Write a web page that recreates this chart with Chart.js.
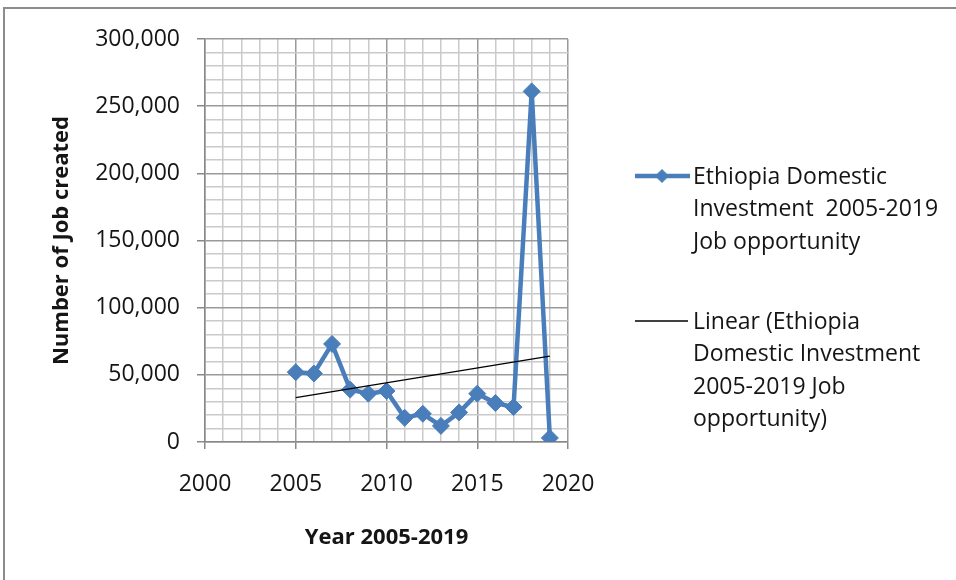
<!DOCTYPE html>
<html>
<head>
<meta charset="utf-8">
<script src="https://cdn.jsdelivr.net/npm/chart.js@4.4.1/dist/chart.umd.min.js"></script>
<style>
  html, body { margin: 0; padding: 0; background: #fff; }
  canvas { display: block; }
</style>
</head>
<body>
<canvas id="graficoEmpleo" width="956" height="580"></canvas>
<script>
// Empleos creados por la inversión doméstica, 2005-2019
var years = [2005, 2006, 2007, 2008, 2009, 2010, 2011, 2012, 2013, 2014, 2015, 2016, 2017, 2018, 2019];
var jobs = [52000, 51000, 73000, 39000, 36000, 38000, 18000, 21000, 12000, 22000, 36000, 29000, 26000, 261000, 3000];

// extremos de la tendencia lineal
var trendYears = [2005, 2019];
var trendJobs = [33000, 64000];

var xTickLabels = [2000, 2005, 2010, 2015, 2020];
var yTickLabels = [0, 50000, 100000, 150000, 200000, 250000, 300000];

var seriesLegend = ['Ethiopia Domestic', 'Investment  2005-2019', 'Job opportunity'];
var trendLegend = ['Linear (Ethiopia', 'Domestic Investment', '2005-2019 Job', 'opportunity)'];

var azul = '#4a7ebb';
var texto = '#151515';
var gridMenor = '#cacaca';
var gridMayor = '#9a9a9a';
var fuente = '"Open Sans", sans-serif';

var marco = {
    id: 'marco',
    beforeDraw: function (chart) {
        var ctx = chart.ctx;
        ctx.save();
        ctx.fillStyle = '#fff';
        ctx.fillRect(0, 0, chart.width, chart.height);
        ctx.strokeStyle = '#8c8c8c';
        ctx.lineWidth = 2;
        ctx.strokeRect(4, 8, 1000, 1000);
        ctx.restore();
    }
};

var leyenda = {
    id: 'leyenda',
    afterDraw: function (chart) {
        var ctx = chart.ctx;
        ctx.save();
        // serie principal
        ctx.strokeStyle = azul;
        ctx.lineWidth = 4.5;
        ctx.beginPath();
        ctx.moveTo(635, 176);
        ctx.lineTo(690, 176);
        ctx.stroke();
        ctx.fillStyle = azul;
        ctx.lineWidth = 1;
        Chart.helpers.drawPoint(ctx, { pointStyle: 'rectRot', radius: 6.5, borderWidth: 1 }, 662, 176);
        // tendencia
        ctx.strokeStyle = '#000';
        ctx.lineWidth = 1.3;
        ctx.beginPath();
        ctx.moveTo(635, 321);
        ctx.lineTo(688, 321);
        ctx.stroke();

        ctx.font = '23px ' + fuente;
        ctx.fillStyle = texto;
        ctx.textBaseline = 'middle';
        seriesLegend.forEach(function (t, i) {
            ctx.fillText(t, 693, 177 + i * 32.7);
        });
        trendLegend.forEach(function (t, i) {
            ctx.fillText(t, 693, 322 + i * 32.5);
        });
        ctx.restore();
    }
};

var ctx = document.getElementById('graficoEmpleo').getContext('2d');
var myChart = new Chart(ctx, {
    type: 'line',
    data: {
        datasets: [{
            label: 'Ethiopia Domestic Investment  2005-2019 Job opportunity',
            data: years.map(function (y, i) { return { x: y, y: jobs[i] }; }),
            borderColor: azul,
            backgroundColor: azul,
            borderWidth: 4.5,
            pointStyle: 'rectRot',
            pointRadius: 8.5,
            pointBorderWidth: 1,
            pointBackgroundColor: azul,
            pointBorderColor: azul,
            tension: 0,
            order: 1
        }, {
            label: 'Linear (Ethiopia Domestic Investment 2005-2019 Job opportunity)',
            data: trendYears.map(function (y, i) { return { x: y, y: trendJobs[i] }; }),
            borderColor: '#000',
            borderWidth: 1.3,
            pointRadius: 0,
            order: 0
        }]
    },
    options: {
        responsive: false,
        animation: false,
        layout: { padding: { left: 49, top: 39, right: 388, bottom: 29 } },
        plugins: {
            legend: { display: false },
            tooltip: { enabled: false }
        },
        scales: {
            x: {
                type: 'linear',
                min: 2000,
                max: 2020,
                afterFit: function (scale) { scale.height = 580 - 442 - 29; },
                ticks: {
                    stepSize: 1,
                    autoSkip: false,
                    maxRotation: 0,
                    padding: 22,
                    color: texto,
                    font: { family: fuente, size: 23 },
                    callback: function (v) { return xTickLabels.indexOf(v) >= 0 ? String(v) : ''; }
                },
                grid: {
                    color: function (c) { return c.tick && c.tick.value % 5 === 0 ? gridMayor : gridMenor; },
                    tickColor: function (c) { return c.tick && c.tick.value % 5 === 0 ? '#888' : 'rgba(0,0,0,0)'; },
                    tickLength: 7,
                    lineWidth: 1.5
                },
                border: { color: '#888', width: 1.5 },
                title: {
                    display: true,
                    text: 'Year 2005-2019',
                    color: texto,
                    padding: 0,
                    font: { family: fuente, size: 22, weight: 'bold', lineHeight: 1.2 }
                }
            },
            y: {
                min: 0,
                max: 300000,
                afterFit: function (scale) { scale.width = 205 - 49; },
                ticks: {
                    stepSize: 10000,
                    autoSkip: false,
                    padding: 17,
                    color: texto,
                    font: { family: fuente, size: 23 },
                    callback: function (v) { return yTickLabels.indexOf(v) >= 0 ? v.toLocaleString('en-US') : ''; }
                },
                grid: {
                    color: function (c) { return c.tick && c.tick.value % 50000 === 0 ? gridMayor : gridMenor; },
                    tickColor: function (c) { return c.tick && c.tick.value % 50000 === 0 ? '#888' : 'rgba(0,0,0,0)'; },
                    tickLength: 8,
                    lineWidth: 1.5
                },
                border: { color: '#888', width: 1.5 },
                title: {
                    display: true,
                    text: 'Number of Job created',
                    color: texto,
                    padding: 0,
                    font: { family: fuente, size: 22, weight: 'bold', lineHeight: 1.2 }
                }
            }
        }
    },
    plugins: [marco, leyenda]
});
</script>
</body>
</html>
